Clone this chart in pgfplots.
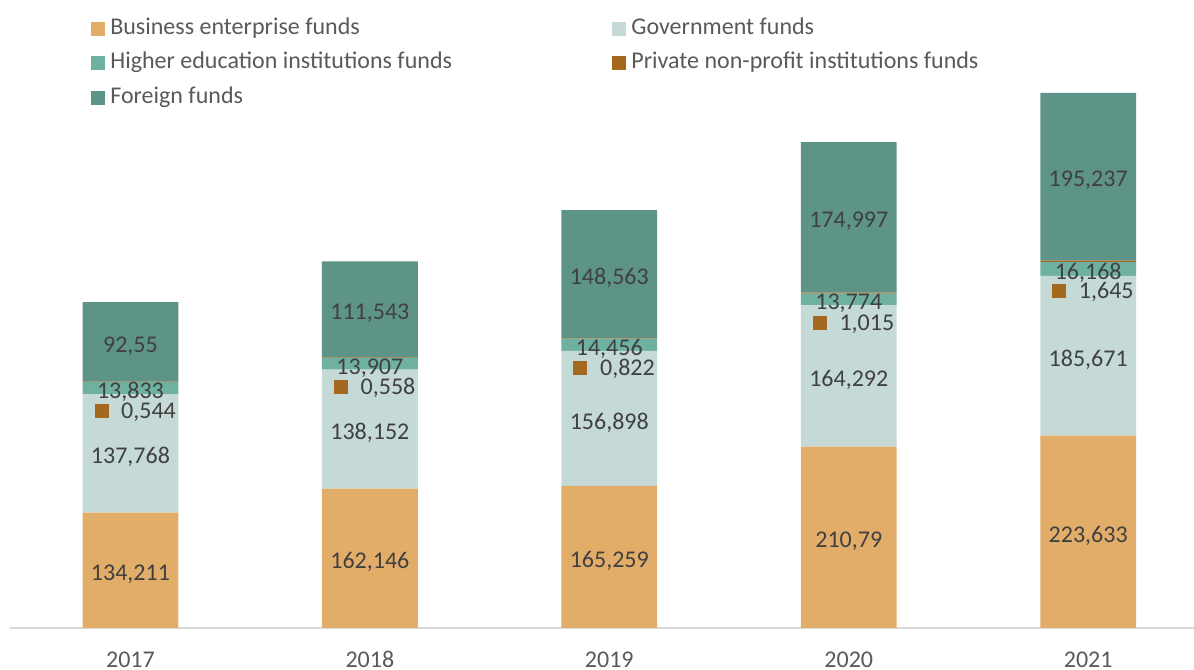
\documentclass[border=0pt]{standalone}
\usepackage{pgfplots}
\usepackage{pgfplotstable}
\pgfplotsset{compat=1.18}
\usepackage{fontspec}
\setmainfont{Carlito}
\definecolor{cBus}{HTML}{E2AC69}
\definecolor{cGov}{HTML}{C5DAD7}
\definecolor{cHig}{HTML}{6FB1A0}
\definecolor{cPri}{HTML}{A5681F}
\definecolor{cFor}{HTML}{5E9387}
\definecolor{lbl}{HTML}{404040}
\definecolor{txt}{HTML}{595959}
\definecolor{axl}{HTML}{D9D9D9}

\pgfplotstableread{
x bus gov hig pri for
0 134.211 137.768 13.833 0.544 92.55
1 162.146 138.152 13.907 0.558 111.543
2 165.259 156.898 14.456 0.822 148.563
3 210.79 164.292 13.774 1.015 174.997
4 223.633 185.671 16.168 1.645 195.237
}\data

\newcommand{\lblfont}{\fontsize{18}{21}\selectfont}

\begin{document}
\begin{tikzpicture}
\useasboundingbox (0,0) rectangle (895.5pt,502.5pt);
\begin{axis}[
  at={(7.5pt,31.5pt)}, anchor=south west,
  scale only axis, width=888pt, height=406.35pt,
  xmin=-0.503, xmax=4.442, ymin=0, ymax=630,
  ybar stacked, bar width=0.4,
  axis y line=none, axis x line=bottom,
  x axis line style={-, draw=axl, line width=1.2pt},
  major tick length=0pt, ytick=\empty,
  xtick={0,1,2,3,4}, xticklabels={2017,2018,2019,2020,2021},
  xticklabel style={anchor=base, yshift=-29.5pt, font=\lblfont, text=txt, inner sep=0pt},
  /pgf/number format/assume math mode=true,
  clip=false,
  visualization depends on=rawy\as\rawy,
  nodes near coords={\pgfmathprintnumber[fixed,precision=3,use comma]{\rawy}},
  every node near coord/.style={anchor=center, inner sep=0pt, font=\lblfont, text=lbl, yshift=-3pt},
  every axis plot post/.append style={legend image code/.code={\fill[##1] (0pt,-5.25pt) rectangle (10.5pt,5.25pt);}},
  legend columns=2,
  legend cell align=left,
  legend style={at={(0.0684,1.1285)}, anchor=north west, draw=none, fill=none, inner sep=0pt,
    row sep=8.6pt, font=\lblfont, text=txt,
    nodes={inner sep=0pt, text height=13pt, text depth=4.5pt},
    /tikz/every odd column/.append style={column sep=3.8pt}},
]
\addplot[fill=cBus, draw=none] table[x=x, y=bus] {\data};
\addlegendentry{\makebox[376.5pt][l]{Business enterprise funds}}
\addplot[fill=cGov, draw=none] table[x=x, y=gov] {\data};
\addlegendentry{Government funds}
\addplot[fill=cHig, draw=none] table[x=x, y=hig] {\data};
\addlegendentry{\makebox[376.5pt][l]{Higher education institutions funds}}
\addplot[fill=cPri, draw=none,
  nodes near coords={\llap{\textcolor{cPri}{\rule[0.45pt]{10.5pt}{10.5pt}}\hspace{9.5pt}}\pgfmathprintnumber[fixed,precision=3,use comma]{\rawy}},
  every node near coord/.style={anchor=base west, inner sep=0pt, font=\lblfont, text=lbl, xshift=-7.1pt, yshift=-27.75pt}]
  table[x=x, y=pri] {\data};
\addlegendentry{Private non-profit institutions funds}
\addplot[fill=cFor, draw=none] table[x=x, y=for] {\data};
\addlegendentry{\makebox[376.5pt][l]{Foreign funds}}
\end{axis}
\end{tikzpicture}
\end{document}
